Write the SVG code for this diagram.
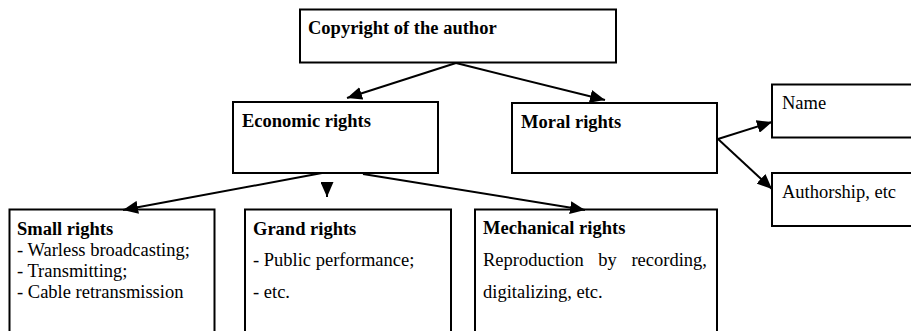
<svg xmlns="http://www.w3.org/2000/svg" width="911" height="331" viewBox="0 0 911 331">
<defs>
<marker id="ah" markerWidth="15" markerHeight="13" refX="15" refY="6.5" orient="auto" markerUnits="userSpaceOnUse" viewBox="0 0 15 13">
<path d="M0,0 L15,6.5 L0,13 Z" fill="#000"/>
</marker>
<style>
.box{fill:#fff;stroke:#000;stroke-width:2}
.t{font-family:"Liberation Serif","Times New Roman",serif;font-size:18.5px;fill:#000}
.b{font-weight:bold}
.c{stroke:#000;stroke-width:2;fill:none;marker-end:url(#ah)}
</style>
</defs>
<rect width="911" height="331" fill="#fff"/>
<g id="copyright">
<rect class="box" x="300" y="9.5" width="316" height="53"/>
<text class="t b" x="308" y="34">Copyright of the author</text>
</g>
<g id="economic">
<rect class="box" x="233" y="102" width="205" height="71"/>
<text class="t b" x="242" y="127">Economic rights</text>
</g>
<g id="moral">
<rect class="box" x="512" y="103" width="205" height="70"/>
<text class="t b" x="521" y="128">Moral rights</text>
</g>
<g id="name">
<rect class="box" x="772" y="84.5" width="150" height="53"/>
<text class="t" x="782" y="109">Name</text>
</g>
<g id="authorship">
<rect class="box" x="772" y="173" width="150" height="53"/>
<text class="t" x="782" y="198">Authorship, etc</text>
</g>
<g id="small">
<rect class="box" x="9.5" y="209.5" width="205" height="140"/>
<text class="t b" x="17" y="235">Small rights</text>
<text class="t" x="17" y="256">- Warless broadcasting;</text>
<text class="t" x="17" y="277">- Transmitting;</text>
<text class="t" x="17" y="298">- Cable retransmission</text>
</g>
<g id="grand">
<rect class="box" x="245" y="209.5" width="206" height="140"/>
<text class="t b" x="253" y="235">Grand rights</text>
<text class="t" x="253" y="266">- Public performance;</text>
<text class="t" x="253" y="298">- etc.</text>
</g>
<g id="mechanical">
<rect class="box" x="475" y="209.5" width="242" height="140"/>
<text class="t b" x="483" y="234">Mechanical rights</text>
<text class="t" x="483" y="266" word-spacing="10">Reproduction by recording,</text>
<text class="t" x="483" y="298">digitalizing, etc.</text>
</g>
<g id="connectors">
<line class="c" x1="456" y1="63" x2="347" y2="98"/>
<line class="c" x1="456" y1="63" x2="605" y2="100"/>
<line class="c" x1="718" y1="139" x2="772" y2="122"/>
<line class="c" x1="718" y1="139" x2="772" y2="189"/>
<line class="c" x1="322" y1="173" x2="123" y2="210"/>
<line class="c" x1="327" y1="183" x2="327" y2="197"/>
<line class="c" x1="363" y1="174" x2="585" y2="210"/>
</g>
</svg>
